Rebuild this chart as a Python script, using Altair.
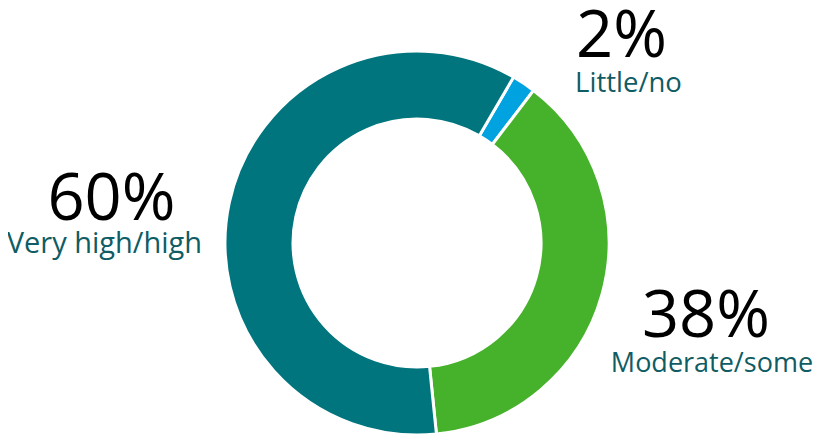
import altair as alt
import pandas as pd

categories = ["Little/no", "Moderate/some", "Very high/high"]
values = [2, 38, 60]
pct_labels = ["2%", "38%", "60%"]
colors = ["#00A3E0", "#46B12B", "#00757E"]

df = pd.DataFrame({"category": categories, "value": values, "pct": pct_labels})

W, H = 807, 427
CX, CY = 409, 235
START = 0.527  # radians, clockwise from 12 o'clock
TWO_PI = 6.283185307179586

theta = alt.Theta("value:Q", stack=True, scale=alt.Scale(range=[START, START + TWO_PI]))
order = alt.Order("category:N", sort="ascending")

base = alt.Chart(df)

arcs = base.mark_arc(outerRadius=192, innerRadius=124, stroke="white", strokeWidth=3).encode(
    theta=theta,
    order=order,
    color=alt.Color("category:N", scale=alt.Scale(domain=categories, range=colors), legend=None),
    x=alt.value(CX),
    y=alt.value(CY),
)

# label style constants per category: (pct dx, pct dy, name dx, name dy, name font size)
offsets = {
    "Little/no": (71, 13, 78, 48, 27.5),
    "Moderate/some": (58, 29, 64, 64, 27),
    "Very high/high": (-71, 28, -78, 61, 29),
}

layers = [arcs]
for cat in categories:
    pdx, pdy, ndx, ndy, nfs = offsets[cat]
    pct = base.mark_text(radius=240, fontSize=65, font="Open Sans", color="#000000",
                         align="center", baseline="alphabetic", dx=pdx, dy=pdy).encode(
        theta=theta, order=order, text="pct:N", x=alt.value(CX), y=alt.value(CY),
        opacity=alt.condition(alt.datum.category == cat, alt.value(1), alt.value(0)),
    )
    name = base.mark_text(radius=240, fontSize=nfs, font="Open Sans", color="#0F5C64",
                          align="center", baseline="alphabetic", dx=ndx, dy=ndy).encode(
        theta=theta, order=order, text="category:N", x=alt.value(CX), y=alt.value(CY),
        opacity=alt.condition(alt.datum.category == cat, alt.value(1), alt.value(0)),
    )
    layers += [pct, name]

chart = alt.layer(*layers).properties(
    width=W, height=H, padding=0, autosize=alt.AutoSizeParams(type="none")
).configure_view(stroke=None)

chart.save("out.html", embed_options={"renderer": "svg", "actions": False})
